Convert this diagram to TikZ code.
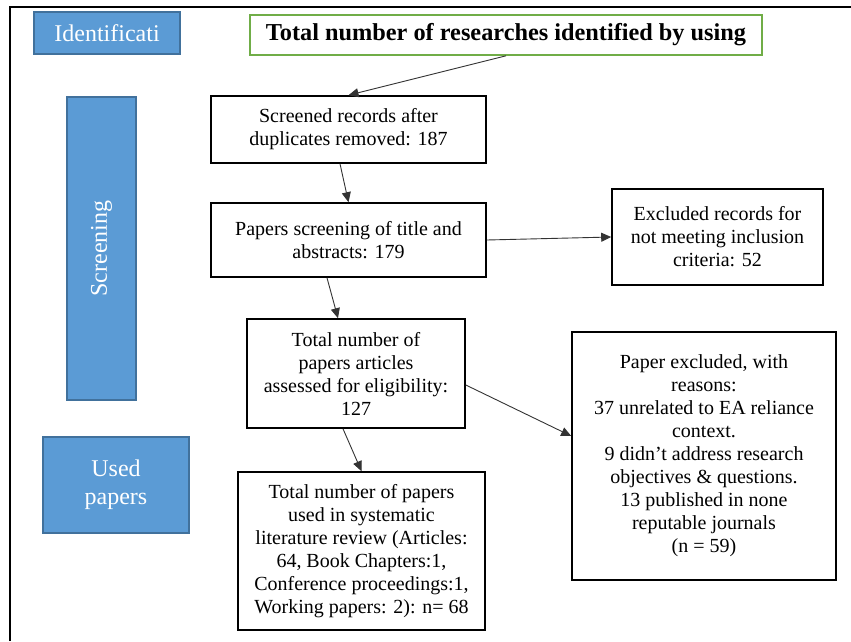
\documentclass[tikz,border=0pt]{standalone}
\usepackage{fontspec}
\setmainfont{Liberation Serif}
\usepackage{tikz}
\usetikzlibrary{arrows.meta}

\definecolor{stageblue}{HTML}{5B9BD5}
\definecolor{stageedge}{HTML}{41719C}
\definecolor{srcgreen}{HTML}{70AD47}

\begin{document}
\begin{tikzpicture}[
      x=1pt, y=-1pt,
      font=\fontsize{20}{23}\selectfont,
      box/.style={draw, line width=1.6pt, align=center, inner sep=2pt},
      stage/.style={draw=stageedge, line width=1.4pt, fill=stageblue, text=white, align=center, font=\fontsize{24}{28}\selectfont},
      arrow/.style={-{Triangle[length=10pt, width=9pt]}, line width=0.9pt, draw=black!80}
    ]
    \useasboundingbox (0,0) rectangle (851,641);
    \draw[line width=1.6pt] (10,641) -- (10,7) -- (851,7);
    % stage labels
    \node[stage, minimum width=146pt, minimum height=42pt] (ident) at (107,33) {Identificati};
    \node[stage, rotate=90, minimum width=303pt, minimum height=69pt] (screen) at (101.5,248.5) {Screening};
    \node[stage, minimum width=146pt, minimum height=96pt] (used) at (116,485) {Used\\papers};
    % flow boxes
    \node[box, draw=srcgreen, minimum width=512pt, minimum height=40pt, font=\fontsize{24.3}{27}\selectfont\bfseries] (src) at (506,35) {Total number of researches identified by using};
    \node[box, minimum width=275pt, minimum height=67pt] (scr) at (348.5,129.5) {Screened records after\\duplicates removed: 187};
    \node[box, minimum width=275pt, minimum height=74pt] (title) at (348.5,240) {Papers screening of title and\\abstracts: 179};
    \node[box, minimum width=211pt, minimum height=96pt] (excl) at (717.5,237) {Excluded records for\\not meeting inclusion\\criteria: 52};
    \node[box, minimum width=218pt, minimum height=109pt] (elig) at (356,373.5) {Total number of\\papers articles\\assessed for eligibility:\\127};
    \node[box, minimum width=264pt, minimum height=248pt] (rsn) at (704,456) {Paper excluded, with\\reasons:\\37 unrelated to EA reliance\\context.\\9 didn’t address research\\objectives \& questions.\\13 published in none\\reputable journals\\(n = 59)};
    \node[box, minimum width=247pt, minimum height=158pt] (incl) at (361.5,551) {Total number of papers\\used in systematic\\literature review (Articles:\\64, Book Chapters:1,\\Conference proceedings:1,\\Working papers: 2): n= 68};
    % connectors
    \draw[arrow] (src.south) -- (scr.north);
    \draw[arrow] ([xshift=-8.5pt]scr.south) -- (title.north);
    \draw[arrow] (title.east) -- (excl.west);
    \draw[arrow] ([xshift=-21.5pt]title.south) -- ([xshift=-18pt]elig.north);
    \draw[arrow] ([yshift=-11.5pt]elig.east) -- ([yshift=20pt]rsn.west);
    \draw[arrow] ([xshift=-13pt]elig.south) -- (incl.north);
  \end{tikzpicture}
\end{document}
